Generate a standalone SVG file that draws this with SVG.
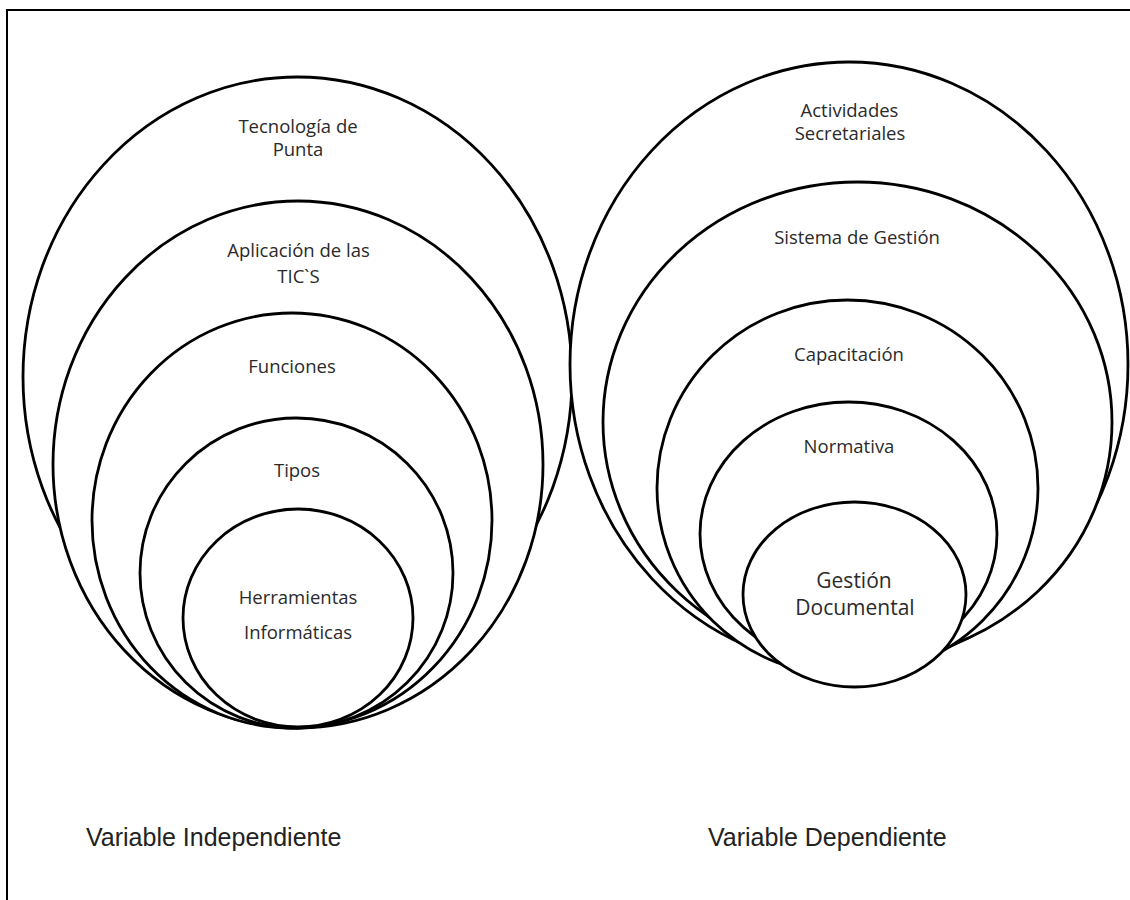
<svg xmlns="http://www.w3.org/2000/svg" width="1130" height="900" viewBox="0 0 1130 900">
<style>
.ring{fill:#fff;stroke:#000;stroke-width:2.8}
.lbl{font-family:"Open Sans","Noto Sans","Liberation Sans",sans-serif;font-size:18.5px;fill:#2a2a2a;text-anchor:middle}
.big{font-size:21px}
.var{font-family:"Liberation Sans",Arial,sans-serif;font-size:25px;fill:#222}
</style>
<rect x="0" y="0" width="1130" height="900" fill="#fff"/>
<rect x="7" y="10" width="1135" height="905" fill="none" stroke="#000" stroke-width="2"/>
<g id="connectors"/>
<g id="independiente">
<g id="n-tecnologia"><ellipse class="ring" cx="297.5" cy="377" rx="274.5" ry="300"/><text class="lbl" x="298" y="133">Tecnología de</text><text class="lbl" x="298" y="156">Punta</text></g>
<g id="n-aplicacion"><ellipse class="ring" cx="298" cy="464.5" rx="245" ry="263.5"/><text class="lbl" x="298.5" y="257">Aplicación de las</text><text class="lbl" x="298.5" y="283">TIC`S</text></g>
<g id="n-funciones"><ellipse class="ring" cx="292" cy="520.5" rx="200" ry="207.5"/><text class="lbl" x="292" y="373">Funciones</text></g>
<g id="n-tipos"><ellipse class="ring" cx="296.5" cy="573" rx="156.5" ry="155"/><text class="lbl" x="297" y="477">Tipos</text></g>
<g id="n-herramientas"><ellipse class="ring" cx="298" cy="618" rx="115" ry="109"/><text class="lbl" x="298" y="604">Herramientas</text><text class="lbl" x="298" y="639">Informáticas</text></g>
</g>
<g id="dependiente">
<g id="n-actividades"><ellipse class="ring" cx="849" cy="364.5" rx="279" ry="302.5"/><text class="lbl" x="849.5" y="117">Actividades</text><text class="lbl" x="850" y="140">Secretariales</text></g>
<g id="n-sistema"><ellipse class="ring" cx="857.5" cy="422" rx="254.5" ry="240"/><text class="lbl" x="857" y="244">Sistema de Gestión</text></g>
<g id="n-capacitacion"><ellipse class="ring" cx="847.5" cy="488" rx="190.5" ry="188"/><text class="lbl" x="849" y="361">Capacitación</text></g>
<g id="n-normativa"><ellipse class="ring" cx="848.5" cy="534" rx="148.5" ry="132"/><text class="lbl" x="849" y="453">Normativa</text></g>
<g id="n-gestion"><ellipse class="ring" cx="854.5" cy="594.5" rx="111.5" ry="92.5"/><text class="lbl big" x="854" y="588">Gestión</text><text class="lbl big" x="855" y="615">Documental</text></g>
</g>
<g id="labels">
<text class="var" x="86" y="846">Variable Independiente</text>
<text class="var" x="708" y="846">Variable Dependiente</text>
</g>
</svg>
